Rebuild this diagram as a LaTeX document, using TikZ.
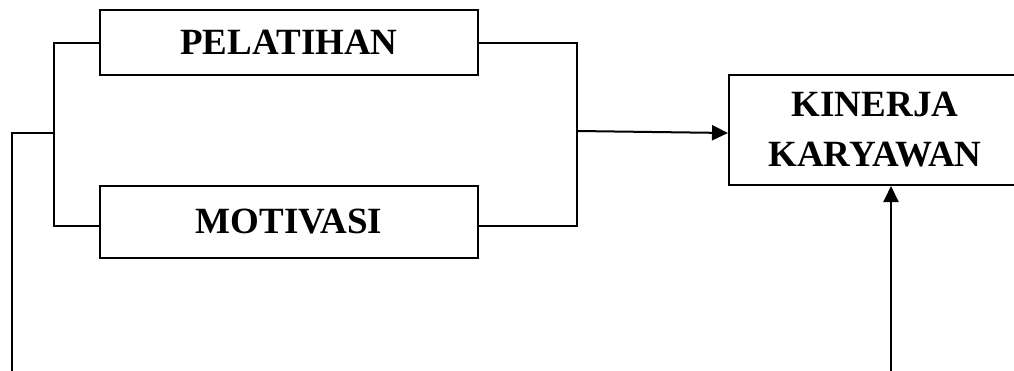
\documentclass[tikz,border=0pt]{standalone}
\usepackage{fontspec}
\setmainfont{Liberation Serif}
\usetikzlibrary{arrows.meta}
\begin{document}
\begin{tikzpicture}[x=1pt,y=-1pt,
  box/.style={draw, line width=2pt, inner sep=0pt, font=\fontsize{37}{50}\selectfont\bfseries},
  conn/.style={line width=2pt},
  tip/.style={-{Triangle[length=16pt,width=15pt]}}]
\useasboundingbox (0,0) rectangle (1014,370);
\clip (0,0) rectangle (1014,370);
\node[box, minimum width=378pt, minimum height=65pt] (P) at (289,42.5) {PELATIHAN};
\node[box, minimum width=378pt, minimum height=72pt] (M) at (289,222) {MOTIVASI};
\node[box, minimum width=292pt, minimum height=110pt, align=center] (K) at (875,130) {KINERJA\\KARYAWAN};
\coordinate (lb) at (54,133);
\coordinate (rb) at (577,131);
\coordinate (o) at (12,372);
\coordinate (v) at (891,372);
\draw[conn] (P.west) -| (54,226) -- ([yshift=-4pt]M.west);
\draw[conn] (lb) -- (12,133) -- (o);
\draw[conn] (P.east) -| (577,226) -- ([yshift=-4pt]M.east);
\draw[conn,tip] (rb) -- ([yshift=-3pt]K.west);
\draw[conn,tip] (v) -- (K.south -| v);
\end{tikzpicture}
\end{document}
